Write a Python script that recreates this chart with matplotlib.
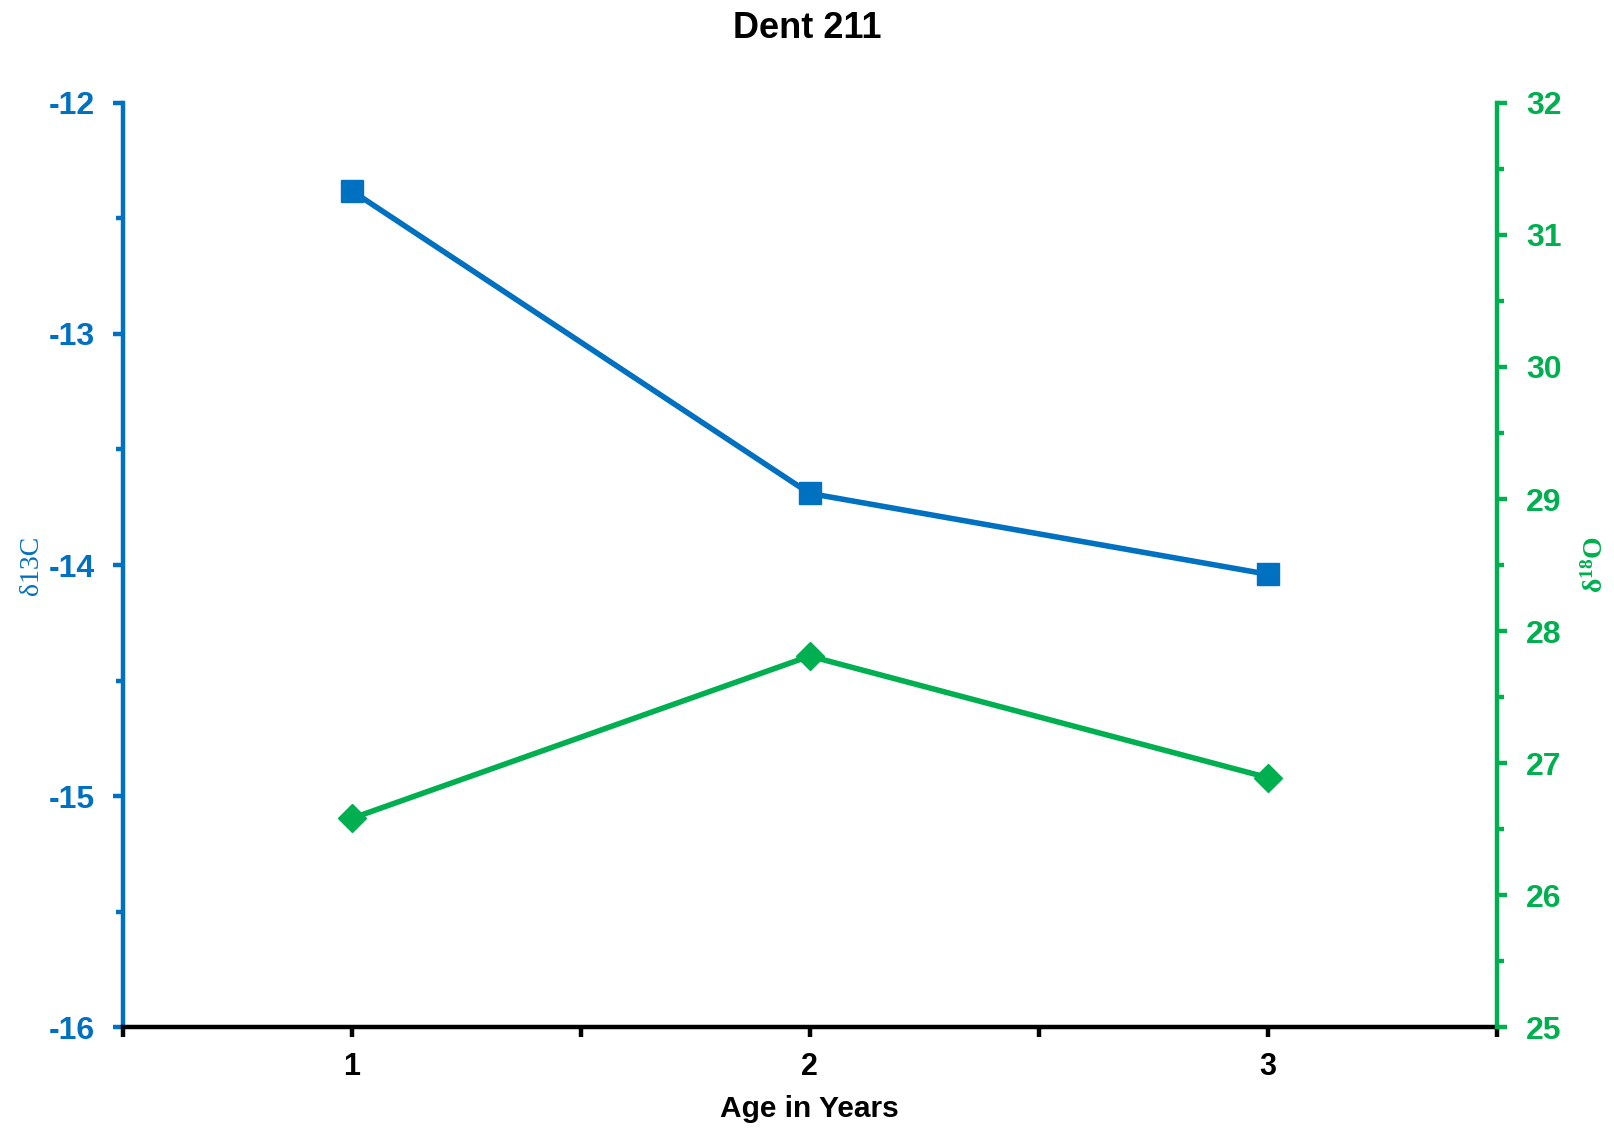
import matplotlib
matplotlib.use("Agg")
import matplotlib.pyplot as plt
from matplotlib.ticker import MultipleLocator, FixedLocator, FixedFormatter

# Data
age_years = [1, 2, 3]
delta13c = [-12.38, -13.69, -14.04]
delta18o = [26.58, 27.81, 26.89]

blue = "#0070C0"
green = "#00B050"

plt.rcParams["font.family"] = ["Liberation Sans", "DejaVu Sans"]
plt.rcParams["axes.unicode_minus"] = False

fig = plt.figure(figsize=(16.15, 11.29), dpi=100)
ax = fig.add_axes([0.0759, 0.0903, 0.8508, 0.8185])
ax2 = ax.twinx()

ax.plot(age_years, delta13c, color=blue, lw=4.0, marker="s", ms=16, zorder=3)
ax2.plot(age_years, delta18o, color=green, lw=4.0, marker="D", ms=14, zorder=3)

ax.set_xlim(0.5, 3.5)
ax.set_ylim(-16, -12)
ax2.set_ylim(25, 32)

# x axis: ticks every half year, labels at whole years
xt = [0.5, 1, 1.5, 2, 2.5, 3, 3.5]
xl = ["", "1", "", "2", "", "3", ""]
ax.xaxis.set_major_locator(FixedLocator(xt))
ax.xaxis.set_major_formatter(FixedFormatter(xl))

ax.yaxis.set_major_locator(MultipleLocator(1))
ax.yaxis.set_minor_locator(MultipleLocator(0.5))
ax2.yaxis.set_major_locator(MultipleLocator(1))
ax2.yaxis.set_minor_locator(MultipleLocator(0.5))

for a in (ax, ax2):
    for s in a.spines.values():
        s.set_visible(False)

sw = 3.2
ax.spines["bottom"].set_visible(True)
ax.spines["bottom"].set_color("black")
ax.spines["bottom"].set_linewidth(sw)
ax.spines["left"].set_visible(True)
ax.spines["left"].set_color(blue)
ax.spines["left"].set_linewidth(sw)
ax2.spines["right"].set_visible(True)
ax2.spines["right"].set_color(green)
ax2.spines["right"].set_linewidth(sw)

ax.tick_params(axis="x", direction="out", length=7, width=sw, color="black",
               labelsize=22, pad=11)
ax.tick_params(axis="y", which="major", direction="out", length=7, width=sw,
               color=blue, labelcolor=blue, labelsize=23, pad=13)
ax.tick_params(axis="y", which="minor", direction="out", length=5, width=sw,
               color=blue)
ax2.tick_params(axis="y", which="major", direction="out", length=7, width=sw,
                color=green, labelcolor=green, labelsize=23, pad=14)
ax2.tick_params(axis="y", which="minor", direction="out", length=5, width=sw,
                color=green)

for lab in ax.get_xticklabels() + ax.get_yticklabels() + ax2.get_yticklabels():
    lab.set_fontweight("bold")

ax.set_xlabel("Age in Years", fontsize=21.5, fontweight="bold")
ax.xaxis.set_label_coords(0.5, -0.073)

ax.set_ylabel("δ13C", color=blue, fontsize=20, family="Liberation Serif")
ax.yaxis.set_label_coords(-0.0575, 0.5)
ax2.set_ylabel(r"$\mathregular{δ^{18}O}$", color=green, fontsize=20,
               family="Liberation Serif", fontweight="bold", rotation=90)
ax2.yaxis.set_label_coords(1.062, 0.5)

fig.suptitle("Dent 211", fontsize=26, fontweight="bold", y=0.99)

fig.savefig("out.png", dpi=100, facecolor="white")
